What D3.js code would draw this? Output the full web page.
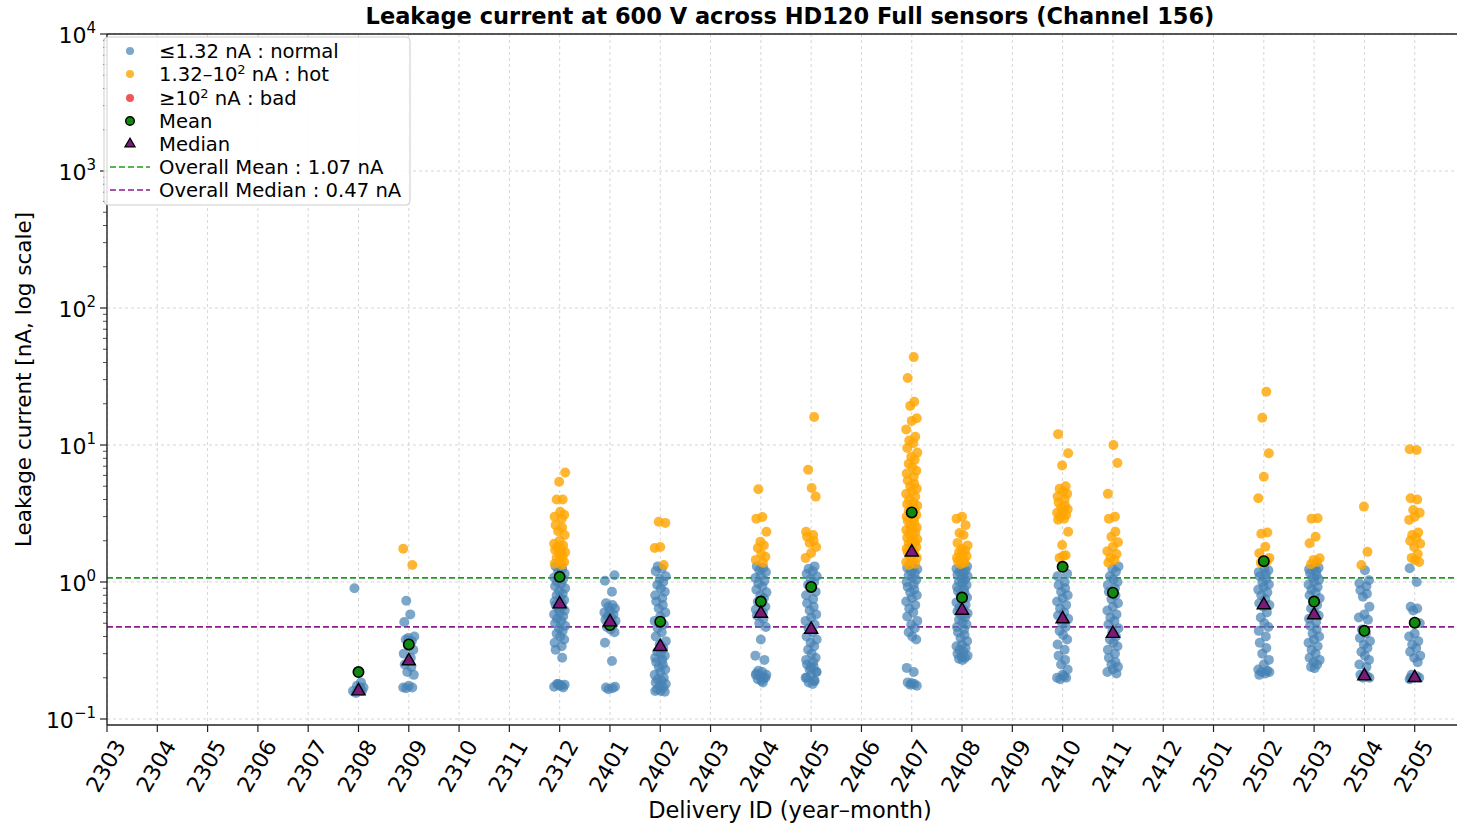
<!DOCTYPE html>
<html>
<head>
<meta charset="utf-8">
<script src="https://cdn.jsdelivr.net/npm/d3@7"></script>
<style>
  body { margin: 0; background: #fff; }
  text { font-family: "DejaVu Sans", sans-serif; fill: #000; }
</style>
</head>
<body>
<div id="chart"></div>
<script>
// ---- data (nA) ----
var ticks = ["2303","2304","2305","2306","2307","2308","2309","2310","2311","2312",
             "2401","2402","2403","2404","2405","2406","2407","2408","2409","2410","2411","2412",
             "2501","2502","2503","2504","2505"];

var leak2308 = [0.90, 0.185, 0.175, 0.17, 0.165, 0.16, 0.16, 0.155, 0.17];
var leak2309 = [1.75, 1.33, 0.73, 0.58, 0.51, 0.40, 0.39, 0.37, 0.38, 0.34, 0.32, 0.30, 0.28, 0.25, 0.24, 0.22, 0.21, 0.175, 0.17, 0.17, 0.168];
var leak2312 = [6.3, 5.4, 4.0, 4.0, 3.25, 3.1, 3.0, 2.9, 2.6, 2.5, 2.35, 2.2, 2.0, 1.9, 1.85, 1.8, 1.75, 1.71, 1.65, 1.63, 1.55, 1.5, 1.45, 1.4, 1.36, 1.33,
                1.3, 1.25, 1.2, 1.15, 1.12, 1.08, 1.05, 1.0, 0.97, 0.93, 0.9, 0.86, 0.82, 0.8, 0.77, 0.74, 0.72, 0.7, 0.68, 0.66, 0.64, 0.62, 0.6, 0.58,
                0.56, 0.54, 0.52, 0.5, 0.48, 0.46, 0.44, 0.42, 0.4, 0.38, 0.36, 0.34, 0.32, 0.28, 0.18, 0.178, 0.175, 0.172, 0.17, 0.18, 0.176];
var leak2401 = [1.12, 1.02, 0.85, 0.7, 0.68, 0.66, 0.64, 0.62, 0.6, 0.58, 0.56, 0.55, 0.53, 0.52, 0.5, 0.49, 0.47, 0.45, 0.43, 0.36, 0.265, 0.17, 0.168, 0.165, 0.172];
var leak2402 = [2.75, 2.7, 1.8, 1.77, 1.33,
                1.3, 1.25, 1.2, 1.1, 1.05, 1.0, 0.95, 0.9, 0.85, 0.8, 0.76, 0.72, 0.68, 0.64, 0.6, 0.56, 0.52, 0.49, 0.46, 0.43, 0.4, 0.37, 0.35,
                0.33, 0.31, 0.3, 0.29, 0.28, 0.27, 0.26, 0.25, 0.24, 0.23, 0.22, 0.21, 0.2, 0.195, 0.19, 0.185, 0.18, 0.175, 0.17, 0.165, 0.16, 0.158, 0.16];
var leak2404 = [4.76, 2.98, 2.9, 2.33, 1.97, 1.85, 1.77, 1.6, 1.53, 1.45, 1.38,
                1.3, 1.27, 1.22, 1.18, 1.12, 1.07, 1.02, 0.98, 0.93, 0.88, 0.84, 0.8, 0.76, 0.72, 0.69, 0.66, 0.63, 0.6, 0.57, 0.54, 0.5, 0.47,
                0.38, 0.29, 0.27, 0.225, 0.22, 0.215, 0.21, 0.205, 0.2, 0.195, 0.19, 0.2, 0.21, 0.185];
var leak2405 = [16, 6.6, 4.86, 4.2, 2.33, 2.2, 2.14, 2.0, 1.93, 1.8, 1.63, 1.5,
                1.3, 1.25, 1.2, 1.15, 1.1, 1.05, 1.0, 0.95, 0.9, 0.85, 0.8, 0.75, 0.7, 0.66, 0.62, 0.58, 0.55, 0.52, 0.49, 0.46, 0.43, 0.4,
                0.38, 0.36, 0.34, 0.32, 0.3, 0.28, 0.27, 0.26, 0.25, 0.24, 0.23, 0.22, 0.21, 0.2, 0.19, 0.185, 0.18, 0.2, 0.22, 0.24, 0.19];
var leak2407 = [43.8, 30.8, 20.7, 19.3, 15.7, 15, 13, 11.5, 10.8, 10.3, 9.5, 8.8, 8.2, 7.8, 7.3, 6.9, 6.5, 6.2, 5.87, 5.5, 5.2, 5.0,
                4.8, 4.6, 4.4, 4.2, 4.0, 3.8, 3.7, 3.6, 3.5, 3.4, 3.3, 3.2, 3.1, 3.0, 2.9, 2.8, 2.7, 2.6, 2.5, 2.45, 2.4, 2.3, 2.25, 2.2,
                2.1, 2.05, 2.0, 1.95, 1.9, 1.85, 1.8, 1.75, 1.7, 1.65, 1.6, 1.55, 1.5, 1.45, 1.4, 1.36, 1.33,
                1.3, 1.27, 1.24, 1.2, 1.16, 1.12, 1.08, 1.04, 1.0, 0.96, 0.92, 0.88, 0.84, 0.8, 0.76, 0.72, 0.68, 0.64, 0.6, 0.56, 0.52,
                0.49, 0.46, 0.43, 0.4, 0.38, 0.236, 0.22, 0.185, 0.18, 0.178, 0.175, 0.182];
var leak2408 = [3.0, 2.9, 2.6, 2.28, 2.2, 1.93, 1.85, 1.75, 1.7, 1.65, 1.6, 1.55, 1.5, 1.45, 1.42, 1.38, 1.35,
                1.3, 1.28, 1.25, 1.22, 1.19, 1.16, 1.13, 1.1, 1.07, 1.04, 1.01, 0.98, 0.95, 0.92, 0.89, 0.86, 0.83, 0.8, 0.77, 0.74, 0.71,
                0.68, 0.65, 0.63, 0.61, 0.59, 0.57, 0.55, 0.53, 0.51, 0.49, 0.47, 0.45, 0.43, 0.41, 0.39, 0.37, 0.35, 0.34, 0.33, 0.32,
                0.31, 0.3, 0.29, 0.285, 0.28, 0.275, 0.27];
var leak2410 = [12.0, 8.7, 7.1, 5.0, 4.8, 4.6, 4.4, 4.2, 4.0, 3.8, 3.6, 3.5, 3.4, 3.3, 3.2, 3.1, 3.0, 2.9, 2.85, 2.33, 1.86, 1.57, 1.5, 1.55,
                1.15, 1.1, 1.0, 0.95, 0.9, 0.85, 0.8, 0.76, 0.72, 0.68, 0.64, 0.6, 0.57, 0.54, 0.5, 0.47, 0.44, 0.41, 0.38, 0.35, 0.32,
                0.29, 0.27, 0.25, 0.23, 0.21, 0.2, 0.2, 0.195, 0.205];
var leak2411 = [10.0, 7.4, 4.4, 3.0, 2.9, 2.33, 2.14, 1.95, 1.81, 1.68, 1.6, 1.5, 1.45, 1.38,
                1.3, 1.25, 1.19, 1.1, 1.05, 1.0, 0.95, 0.9, 0.85, 0.8, 0.75, 0.7, 0.66, 0.62, 0.58, 0.55, 0.52, 0.49, 0.46, 0.43, 0.4,
                0.38, 0.36, 0.34, 0.32, 0.3, 0.28, 0.26, 0.25, 0.24, 0.23, 0.22, 0.215];
var leak2502 = [24.5, 15.8, 8.7, 5.87, 4.08, 2.3, 2.25, 1.81, 1.62, 1.5, 1.45, 1.41, 1.38,
                1.25, 1.22, 1.18, 1.14, 1.1, 1.05, 1.0, 0.96, 0.92, 0.88, 0.84, 0.8, 0.75, 0.7, 0.68, 0.66, 0.6, 0.55, 0.5, 0.47, 0.44,
                0.4, 0.36, 0.33, 0.3, 0.27, 0.25, 0.23, 0.225, 0.22, 0.215, 0.21, 0.22];
var leak2503 = [2.92, 2.9, 2.14, 1.92, 1.49, 1.45, 1.4, 1.35,
                1.3, 1.27, 1.24, 1.2, 1.16, 1.12, 1.08, 1.04, 1.0, 0.96, 0.92, 0.88, 0.84, 0.8, 0.76, 0.72, 0.68, 0.64, 0.6, 0.57, 0.54,
                0.51, 0.48, 0.45, 0.42, 0.4, 0.38, 0.36, 0.34, 0.32, 0.3, 0.28, 0.27, 0.26, 0.25, 0.24, 0.235];
var leak2504 = [3.55, 1.66, 1.33,
                1.22, 1.03, 0.98, 0.93, 0.87, 0.82, 0.78, 0.66, 0.58, 0.55, 0.53, 0.45, 0.42, 0.39, 0.37, 0.35, 0.33, 0.31, 0.29, 0.27,
                0.25, 0.24, 0.21, 0.205, 0.2, 0.2, 0.21];
var leak2505 = [9.3, 9.2, 4.08, 4.0, 3.35, 3.2, 3.0, 2.84, 2.3, 2.2, 2.1, 2.0, 1.9, 1.8, 1.6, 1.5, 1.45, 1.4,
                1.26, 1.0, 0.66, 0.64, 0.62, 0.5, 0.42, 0.4, 0.37, 0.35, 0.33, 0.31, 0.29, 0.28, 0.26, 0.21, 0.2, 0.2, 0.195, 0.205, 0.2];

var deliveries = ["2308","2309","2312","2401","2402","2404","2405","2407","2408","2410","2411","2502","2503","2504","2505"];
var leakByDelivery = [leak2308, leak2309, leak2312, leak2401, leak2402, leak2404, leak2405, leak2407,
                      leak2408, leak2410, leak2411, leak2502, leak2503, leak2504, leak2505];
var means   = [0.22, 0.35, 1.09, 0.485, 0.513, 0.72, 0.92, 3.22, 0.77, 1.29, 0.835, 1.42, 0.72, 0.44, 0.505];
var medians = [0.16, 0.265, 0.69, 0.51, 0.337, 0.59, 0.45, 1.65, 0.62, 0.537, 0.42, 0.68, 0.575, 0.206, 0.20];
var overallMean = 1.07, overallMedian = 0.47;
var hotCut = 1.32, badCut = 100;

// ---- layout ----
var W = 1457, H = 828;
var mLeft = 107, mTop = 34, mRight = 1465, mBottom = 725;

var svg = d3.select("#chart").append("svg")
    .attr("width", W).attr("height", H);

var x = d3.scaleLinear().domain([0, 27]).range([mLeft, mRight]);
var y = d3.scaleLog().domain([Math.pow(10, -1.0438), 1e4]).range([mBottom, mTop]);

// grid
var decades = [0.1, 1, 10, 100, 1000, 10000];
svg.append("g").selectAll("line").data(ticks).enter().append("line")
    .attr("x1", function(d, i){ return x(i); }).attr("x2", function(d, i){ return x(i); })
    .attr("y1", mTop).attr("y2", mBottom)
    .attr("stroke", "#b8b8b8").attr("stroke-width", 0.8).attr("stroke-dasharray", "3,3").attr("opacity", 0.7);
svg.append("g").selectAll("line").data(decades).enter().append("line")
    .attr("x1", mLeft).attr("x2", mRight)
    .attr("y1", function(d){ return y(d); }).attr("y2", function(d){ return y(d); })
    .attr("stroke", "#b8b8b8").attr("stroke-width", 0.8).attr("stroke-dasharray", "3,3").attr("opacity", 0.7);

// overall lines
svg.append("line").attr("x1", mLeft).attr("x2", mRight)
    .attr("y1", y(overallMean)).attr("y2", y(overallMean))
    .attr("stroke", "#1f9a1f").attr("stroke-width", 1.7).attr("stroke-dasharray", "6,3");
svg.append("line").attr("x1", mLeft).attr("x2", mRight)
    .attr("y1", y(overallMedian)).attr("y2", y(overallMedian))
    .attr("stroke", "#8e1a8e").attr("stroke-width", 1.7).attr("stroke-dasharray", "6,3");

// points, small fixed jitter so the strips spread like the original
var jitter = [-0.08, 0.05, -0.03, 0.1, 0.0, -0.11, 0.07, -0.05, 0.03, -0.09, 0.11, -0.01, 0.06, -0.06, 0.01, 0.09, -0.1, 0.04];
function colorOf(v) {
    if (v >= badCut) return "#e8302a";
    if (v > hotCut) return "#ffa500";
    return "#4682b4";
}
var pts = [];
deliveries.forEach(function(id, k){
    var xi = ticks.indexOf(id);
    leakByDelivery[k].forEach(function(v, j){
        pts.push({xi: xi + jitter[(j + k * 5) % jitter.length], v: v});
    });
});
// blues under oranges
pts.sort(function(a, b){ return a.v - b.v; });
svg.append("g").selectAll("circle").data(pts).enter().append("circle")
    .attr("cx", function(d){ return x(d.xi); })
    .attr("cy", function(d){ return y(d.v); })
    .attr("r", 5)
    .attr("fill", function(d){ return colorOf(d.v); })
    .attr("fill-opacity", function(d){ return d.v > hotCut ? 0.8 : 0.7; });

// mean and median markers
svg.append("g").selectAll("circle").data(deliveries).enter().append("circle")
    .attr("cx", function(d){ return x(ticks.indexOf(d)); })
    .attr("cy", function(d, i){ return y(means[i]); })
    .attr("r", 5.2)
    .attr("fill", "#108a10").attr("stroke", "#000").attr("stroke-width", 1.6);
var tri = d3.symbol().type(d3.symbolTriangle).size(75);
svg.append("g").selectAll("path").data(deliveries).enter().append("path")
    .attr("d", tri)
    .attr("transform", function(d, i){ return "translate(" + x(ticks.indexOf(d)) + "," + y(medians[i]) + ")"; })
    .attr("fill", "#7a1a7a").attr("stroke", "#000").attr("stroke-width", 1.4);

// axes
var ax = svg.append("g");
ax.append("line").attr("x1", mLeft).attr("x2", mRight).attr("y1", mBottom).attr("y2", mBottom).attr("stroke", "#222").attr("stroke-width", 1.4);
ax.append("line").attr("x1", mLeft).attr("x2", mRight).attr("y1", mTop).attr("y2", mTop).attr("stroke", "#222").attr("stroke-width", 1.4);
ax.append("line").attr("x1", mLeft).attr("x2", mLeft).attr("y1", mTop).attr("y2", mBottom).attr("stroke", "#222").attr("stroke-width", 1.4);

ticks.forEach(function(t, i){
    ax.append("line").attr("x1", x(i)).attr("x2", x(i)).attr("y1", mBottom).attr("y2", mBottom + 7)
        .attr("stroke", "#222").attr("stroke-width", 1.2);
    ax.append("text").text(t)
        .attr("transform", "translate(" + (x(i) - 1) + "," + (mBottom + 41) + ") rotate(-60)")
        .attr("text-anchor", "middle").attr("dominant-baseline", "central")
        .style("font-size", "22px");
});

var minors = [];
[-2, -1, 0, 1, 2, 3].forEach(function(e){
    for (var m = 2; m <= 9; m++) {
        var v = m * Math.pow(10, e);
        if (v >= y.domain()[0] && v <= 1e4) minors.push(v);
    }
});
minors.forEach(function(v){
    ax.append("line").attr("x1", mLeft - 4).attr("x2", mLeft).attr("y1", y(v)).attr("y2", y(v))
        .attr("stroke", "#222").attr("stroke-width", 0.8);
});
decades.forEach(function(v){
    var e = Math.round(Math.log10(v));
    ax.append("line").attr("x1", mLeft - 7).attr("x2", mLeft).attr("y1", y(v)).attr("y2", y(v))
        .attr("stroke", "#222").attr("stroke-width", 1.2);
    var lab = ax.append("text").attr("x", mLeft - 11).attr("y", y(v) + 9)
        .attr("text-anchor", "end").style("font-size", "22px");
    lab.append("tspan").text("10");
    lab.append("tspan").text(e < 0 ? "\u2212" + (-e) : e)
        .attr("dy", -10).style("font-size", "15px");
});

// titles
svg.append("text").text("Leakage current at 600 V across HD120 Full sensors (Channel 156)")
    .attr("x", 790).attr("y", 24).attr("text-anchor", "middle")
    .style("font-size", "22.5px").style("font-weight", "bold");
svg.append("text").text("Delivery ID (year\u2013month)")
    .attr("x", 790).attr("y", 818).attr("text-anchor", "middle").style("font-size", "22.5px");
svg.append("text").text("Leakage current [nA, log scale]")
    .attr("transform", "translate(31," + ((mTop + mBottom) / 2) + ") rotate(-90)")
    .attr("text-anchor", "middle").style("font-size", "21.5px");

// legend
var lg = svg.append("g");
lg.append("rect").attr("x", 104).attr("y", 37).attr("width", 306).attr("height", 168).attr("rx", 4)
    .attr("fill", "#fff").attr("fill-opacity", 0.85).attr("stroke", "#ccc");
var rowY = [51, 74, 98, 121, 144, 167, 190];
var legendLabels = [
    ["\u22641.32 nA : normal"],
    ["1.32\u201310", "2", " nA : hot"],
    ["\u226510", "2", " nA : bad"],
    ["Mean"],
    ["Median"],
    ["Overall Mean : " + overallMean.toFixed(2) + " nA"],
    ["Overall Median : " + overallMedian.toFixed(2) + " nA"]
];
legendLabels.forEach(function(parts, i){
    var t = lg.append("text").attr("x", 159).attr("y", rowY[i] + 7).style("font-size", "19.6px");
    t.append("tspan").text(parts[0]);
    if (parts.length > 1) {
        t.append("tspan").text(parts[1]).attr("dy", -7).style("font-size", "13px");
        t.append("tspan").text(parts[2]).attr("dy", 7);
    }
});
lg.append("circle").attr("cx", 130).attr("cy", rowY[0]).attr("r", 4).attr("fill", "#4682b4").attr("fill-opacity", 0.7);
lg.append("circle").attr("cx", 130).attr("cy", rowY[1]).attr("r", 4).attr("fill", "#ffa500").attr("fill-opacity", 0.8);
lg.append("circle").attr("cx", 130).attr("cy", rowY[2]).attr("r", 4).attr("fill", "#e8302a").attr("fill-opacity", 0.8);
lg.append("circle").attr("cx", 130).attr("cy", rowY[3]).attr("r", 4.3).attr("fill", "#108a10").attr("stroke", "#000").attr("stroke-width", 1.4);
lg.append("path").attr("d", d3.symbol().type(d3.symbolTriangle).size(45))
    .attr("transform", "translate(130," + rowY[4] + ")").attr("fill", "#7a1a7a").attr("stroke", "#000").attr("stroke-width", 1.2);
lg.append("line").attr("x1", 110).attr("x2", 150).attr("y1", rowY[5]).attr("y2", rowY[5])
    .attr("stroke", "#1f9a1f").attr("stroke-width", 1.6).attr("stroke-dasharray", "6,3");
lg.append("line").attr("x1", 110).attr("x2", 150).attr("y1", rowY[6]).attr("y2", rowY[6])
    .attr("stroke", "#8e1a8e").attr("stroke-width", 1.6).attr("stroke-dasharray", "6,3");
</script>
</body>
</html>
